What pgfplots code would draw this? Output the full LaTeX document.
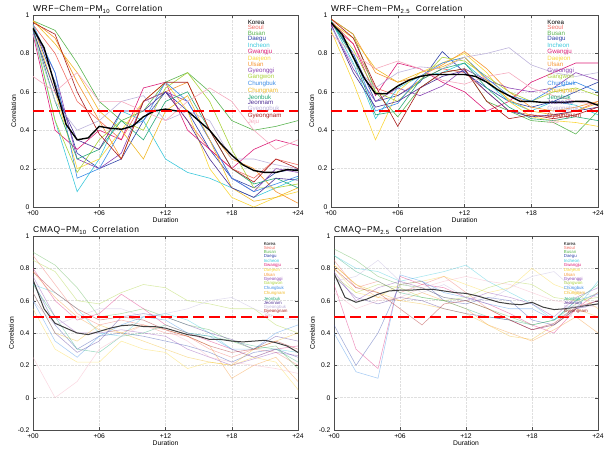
\documentclass[border=0pt]{standalone}
\usepackage{fontspec}
\setmainfont{Liberation Sans}
\newfontfamily\titlefont[LetterSpace=6]{Liberation Sans}
\usepackage{pgfplots}
\usepackage{pgfplotstable}
\pgfplotsset{compat=1.18}

\definecolor{cSeoul}{RGB}{240,110,100}
\definecolor{cBusan}{RGB}{90,180,80}
\definecolor{cDaegu}{RGB}{50,70,170}
\definecolor{cIncheon}{RGB}{60,200,220}
\definecolor{cGwangju}{RGB}{220,30,120}
\definecolor{cDaejeon}{RGB}{250,215,60}
\definecolor{cUlsan}{RGB}{245,150,50}
\definecolor{cGyeonggi}{RGB}{140,70,180}
\definecolor{cGangwon}{RGB}{170,210,60}
\definecolor{cChungbuk}{RGB}{60,140,230}
\definecolor{cChungnam}{RGB}{240,185,40}
\definecolor{cJeonbuk}{RGB}{40,170,120}
\definecolor{cJeonnam}{RGB}{80,50,150}
\definecolor{cGyeongbuk}{RGB}{190,180,220}
\definecolor{cGyeongnam}{RGB}{170,30,30}
\definecolor{cJeju}{RGB}{245,170,190}

% regions, every 2 hours
\pgfplotstableread{
h Seoul Busan Daegu Incheon Gwangju Daejeon Ulsan Gyeonggi Gangwon Chungbuk Chungnam Jeonbuk Jeonnam Gyeongbuk Gyeongnam Jeju
0  0.95 0.97 0.94 0.92 0.90 0.95 0.97 0.93 0.93 0.95 0.97 0.93 0.92 0.90 0.96 0.68
2  0.80 0.92 0.65 0.45 0.40 0.60 0.88 0.70 0.45 0.70 0.85 0.55 0.60 0.55 0.90 0.60
4  0.55 0.75 0.28 0.08 0.30 0.20 0.65 0.25 0.18 0.15 0.70 0.25 0.35 0.40 0.60 0.70
6  0.45 0.55 0.20 0.25 0.40 0.25 0.45 0.20 0.35 0.20 0.50 0.30 0.30 0.45 0.38 0.55
8  0.35 0.45 0.25 0.50 0.35 0.40 0.25 0.28 0.45 0.40 0.40 0.45 0.50 0.55 0.25 0.55
10 0.55 0.50 0.45 0.45 0.62 0.55 0.55 0.55 0.40 0.45 0.25 0.35 0.50 0.58 0.55 0.50
12 0.60 0.65 0.60 0.25 0.65 0.65 0.60 0.60 0.62 0.65 0.50 0.55 0.60 0.45 0.65 0.45
14 0.45 0.70 0.50 0.18 0.40 0.50 0.65 0.55 0.70 0.55 0.58 0.60 0.45 0.50 0.65 0.55
16 0.30 0.60 0.30 0.15 0.30 0.20 0.40 0.35 0.55 0.35 0.35 0.40 0.25 0.45 0.40 0.62
18 0.20 0.45 0.15 0.10 0.20 0.05 0.25 0.15 0.30 0.15 0.10 0.20 0.10 0.25 0.20 0.55
20 0.15 0.40 0.10 0.05 0.30 0.00 0.20 0.08 0.10 0.08 0.03 0.12 0.05 0.25 0.13 0.40
22 0.25 0.42 0.18 0.10 0.35 0.05 0.08 0.20 0.10 0.12 0.05 0.15 0.15 0.22 0.25 0.30
24 0.22 0.45 0.20 0.15 0.32 0.08 0.02 0.18 0.12 0.16 0.10 0.10 0.14 0.20 0.20 0.35
}\tabA

\pgfplotstableread{
h Seoul Busan Daegu Incheon Gwangju Daejeon Ulsan Gyeonggi Gangwon Chungbuk Chungnam Jeonbuk Jeonnam Gyeongbuk Gyeongnam Jeju
0  0.97 0.98 0.96 0.97 0.95 0.92 0.98 0.95 0.96 0.97 0.96 0.97 0.95 0.94 0.98 0.90
2  0.85 0.90 0.80 0.75 0.85 0.65 0.90 0.72 0.82 0.80 0.88 0.78 0.70 0.74 0.88 0.80
4  0.62 0.60 0.55 0.46 0.58 0.35 0.70 0.55 0.60 0.50 0.72 0.48 0.52 0.62 0.63 0.72
6  0.58 0.47 0.58 0.62 0.75 0.60 0.65 0.62 0.55 0.54 0.65 0.50 0.55 0.70 0.42 0.76
8  0.66 0.62 0.65 0.68 0.72 0.70 0.68 0.58 0.66 0.68 0.70 0.66 0.62 0.73 0.62 0.72
10 0.72 0.70 0.81 0.70 0.65 0.75 0.74 0.63 0.78 0.75 0.73 0.72 0.68 0.72 0.70 0.66
12 0.70 0.72 0.70 0.75 0.60 0.80 0.81 0.72 0.76 0.78 0.78 0.75 0.71 0.78 0.72 0.64
14 0.60 0.55 0.62 0.65 0.50 0.70 0.72 0.66 0.68 0.67 0.66 0.62 0.60 0.80 0.55 0.68
16 0.50 0.50 0.55 0.55 0.55 0.55 0.60 0.62 0.60 0.58 0.56 0.52 0.50 0.83 0.46 0.70
18 0.48 0.45 0.52 0.50 0.65 0.47 0.52 0.60 0.55 0.55 0.50 0.46 0.47 0.74 0.48 0.62
20 0.47 0.44 0.55 0.55 0.70 0.45 0.50 0.62 0.60 0.62 0.48 0.45 0.48 0.70 0.46 0.58
22 0.50 0.38 0.60 0.53 0.75 0.44 0.52 0.70 0.62 0.65 0.50 0.47 0.50 0.68 0.48 0.55
24 0.55 0.50 0.65 0.48 0.75 0.42 0.55 0.66 0.58 0.60 0.54 0.45 0.52 0.70 0.52 0.53
}\tabB

\pgfplotstableread{
h Seoul Busan Daegu Incheon Gwangju Daejeon Ulsan Gyeonggi Gangwon Chungbuk Chungnam Jeonbuk Jeonnam Gyeongbuk Gyeongnam Jeju
0  0.88 0.90 0.72 0.70 0.80 0.55 0.78 0.75 0.85 0.60 0.65 0.70 0.65 0.60 0.78 0.25
2  0.70 0.82 0.45 0.65 0.60 0.30 0.62 0.50 0.78 0.35 0.40 0.50 0.40 0.45 0.65 0.00
4  0.52 0.68 0.30 0.55 0.48 0.22 0.50 0.40 0.60 0.25 0.35 0.30 0.28 0.50 0.55 0.10
6  0.45 0.50 0.38 0.40 0.52 0.22 0.42 0.40 0.58 0.38 0.45 0.28 0.35 0.55 0.48 0.30
8  0.48 0.52 0.40 0.38 0.64 0.35 0.40 0.42 0.65 0.45 0.40 0.38 0.50 0.55 0.50 0.38
10 0.45 0.55 0.38 0.50 0.55 0.30 0.45 0.40 0.70 0.50 0.35 0.40 0.52 0.50 0.48 0.45
12 0.40 0.50 0.35 0.52 0.45 0.28 0.42 0.38 0.68 0.48 0.30 0.45 0.50 0.52 0.42 0.42
14 0.38 0.45 0.32 0.48 0.40 0.18 0.38 0.30 0.60 0.40 0.25 0.40 0.45 0.55 0.38 0.35
16 0.30 0.42 0.28 0.40 0.35 0.22 0.32 0.25 0.58 0.38 0.22 0.38 0.40 0.60 0.32 0.25
18 0.25 0.35 0.22 0.30 0.30 0.20 0.12 0.20 0.55 0.30 0.20 0.35 0.36 0.62 0.28 0.22
20 0.30 0.30 0.28 0.25 0.25 0.25 0.20 0.24 0.55 0.30 0.30 0.32 0.30 0.55 0.30 0.20
22 0.28 0.32 0.30 0.30 0.30 0.22 0.25 0.28 0.45 0.40 0.35 0.30 0.38 0.50 0.35 0.18
24 0.20 0.18 0.25 0.28 0.32 0.05 0.10 0.26 0.40 0.45 0.40 0.22 0.35 0.48 0.30 0.15
}\tabC

\pgfplotstableread{
h Seoul Busan Daegu Incheon Gwangju Daejeon Ulsan Gyeonggi Gangwon Chungbuk Chungnam Jeonbuk Jeonnam Gyeongbuk Gyeongnam Jeju
0  0.85 0.92 0.45 0.88 0.70 0.80 0.82 0.78 0.75 0.40 0.82 0.88 0.75 0.72 0.80 0.65
2  0.68 0.85 0.20 0.80 0.30 0.65 0.70 0.60 0.65 0.16 0.70 0.78 0.62 0.75 0.68 0.55
4  0.72 0.75 0.40 0.78 0.18 0.62 0.62 0.68 0.70 0.12 0.65 0.72 0.58 0.85 0.65 0.60
6  0.65 0.70 0.70 0.72 0.75 0.70 0.60 0.72 0.68 0.76 0.60 0.65 0.62 0.72 0.55 0.62
8  0.70 0.68 0.72 0.75 0.70 0.72 0.65 0.68 0.62 0.72 0.58 0.62 0.60 0.65 0.45 0.68
10 0.75 0.62 0.60 0.78 0.68 0.75 0.60 0.62 0.60 0.65 0.55 0.60 0.55 0.70 0.58 0.72
12 0.65 0.60 0.58 0.82 0.62 0.70 0.55 0.60 0.62 0.62 0.52 0.55 0.52 0.62 0.60 0.75
14 0.55 0.55 0.62 0.72 0.58 0.65 0.45 0.65 0.68 0.58 0.45 0.50 0.50 0.60 0.55 0.72
16 0.48 0.50 0.60 0.65 0.52 0.68 0.40 0.62 0.72 0.55 0.38 0.48 0.48 0.68 0.48 0.70
18 0.42 0.45 0.48 0.58 0.45 0.80 0.35 0.58 0.70 0.55 0.36 0.45 0.42 0.75 0.42 0.65
20 0.45 0.48 0.45 0.48 0.40 0.70 0.42 0.50 0.62 0.48 0.45 0.48 0.45 0.78 0.46 0.60
22 0.55 0.58 0.55 0.55 0.55 0.65 0.50 0.62 0.60 0.60 0.55 0.60 0.55 0.66 0.56 0.58
24 0.60 0.65 0.60 0.72 0.65 0.55 0.40 0.68 0.62 0.64 0.50 0.70 0.58 0.62 0.60 0.56
}\tabD

% Korea, hourly: A B C D
\pgfplotstableread{
h A B C D
0  0.93 0.96 0.73 0.77
1  0.83 0.90 0.55 0.62
2  0.63 0.78 0.46 0.59
3  0.43 0.67 0.43 0.61
4  0.35 0.59 0.40 0.64
5  0.36 0.59 0.39 0.66
6  0.42 0.63 0.41 0.665
7  0.41 0.66 0.43 0.665
8  0.405 0.68 0.445 0.67
9  0.42 0.69 0.45 0.67
10 0.47 0.69 0.44 0.66
11 0.50 0.69 0.44 0.65
12 0.51 0.69 0.43 0.645
13 0.50 0.68 0.41 0.63
14 0.50 0.65 0.39 0.61
15 0.45 0.61 0.38 0.59
16 0.40 0.58 0.36 0.58
17 0.33 0.55 0.36 0.575
18 0.27 0.55 0.35 0.59
19 0.22 0.545 0.345 0.56
20 0.19 0.545 0.35 0.545
21 0.18 0.545 0.355 0.55
22 0.18 0.55 0.34 0.56
23 0.195 0.55 0.32 0.57
24 0.19 0.53 0.28 0.58
}\korea

\newcommand{\regionplots}[1]{%
\addplot[region, cSeoul] table[x=h,y=Seoul]{#1};
\addplot[region, cBusan] table[x=h,y=Busan]{#1};
\addplot[region, cDaegu] table[x=h,y=Daegu]{#1};
\addplot[region, cIncheon] table[x=h,y=Incheon]{#1};
\addplot[region, cGwangju] table[x=h,y=Gwangju]{#1};
\addplot[region, cDaejeon] table[x=h,y=Daejeon]{#1};
\addplot[region, cUlsan] table[x=h,y=Ulsan]{#1};
\addplot[region, cGyeonggi] table[x=h,y=Gyeonggi]{#1};
\addplot[region, cGangwon] table[x=h,y=Gangwon]{#1};
\addplot[region, cChungbuk] table[x=h,y=Chungbuk]{#1};
\addplot[region, cChungnam] table[x=h,y=Chungnam]{#1};
\addplot[region, cJeonbuk] table[x=h,y=Jeonbuk]{#1};
\addplot[region, cJeonnam] table[x=h,y=Jeonnam]{#1};
\addplot[region, cGyeongbuk] table[x=h,y=Gyeongbuk]{#1};
\addplot[region, cGyeongnam] table[x=h,y=Gyeongnam]{#1};
\addplot[region, cJeju] table[x=h,y=Jeju]{#1};
}

\newcommand{\legendtext}{%
\textcolor{black}{Korea}\\ \textcolor{cSeoul}{Seoul}\\ \textcolor{cBusan}{Busan}\\
\textcolor{cDaegu}{Daegu}\\ \textcolor{cIncheon}{Incheon}\\ \textcolor{cGwangju}{Gwangju}\\
\textcolor{cDaejeon}{Daejeon}\\ \textcolor{cUlsan}{Ulsan}\\ \textcolor{cGyeonggi}{Gyeonggi}\\
\textcolor{cGangwon}{Gangwon}\\ \textcolor{cChungbuk}{Chungbuk}\\ \textcolor{cChungnam}{Chungnam}\\
\textcolor{cJeonbuk}{Jeonbuk}\\ \textcolor{cJeonnam}{Jeonnam}\\ \textcolor{cGyeongbuk}{Gyeongbuk}\\
\textcolor{cGyeongnam}{Gyeongnam}\\ \textcolor{cJeju}{Jeju}}

\pgfplotsset{
  panel/.style={
    scale only axis, width=265bp, height=192bp,
    xmin=0, xmax=24, ymax=1,
    xtick={0,6,12,18,24}, xticklabels={+00,+06,+12,+18,+24},
    grid=major, grid style={densely dotted, gray!25},
    axis line style={gray!60!black, line width=1pt},
    tick style={gray!60!black}, tick align=inside, major tick length=3bp,
    ticklabel style={font=\fontsize{6.8}{7}\selectfont},
    /pgf/number format/assume math mode=true,
    xlabel=Duration, ylabel=Correlation,
    label style={font=\fontsize{6.8}{7}\selectfont},
    xlabel style={yshift=5bp}, ylabel style={yshift=-3bp},
    korea/.style={black, line width=1.4bp},
    redline/.style={red, line width=2.6bp, dash pattern=on 11bp off 5bp},
  },
  paneltitle/.style={extra description/.code={
    \node[anchor=south west, inner sep=0pt, yshift=1.5bp,
      font=\titlefont\fontsize{8.5}{9}\selectfont] at (0,1) {#1};}},
  toprow/.style={ymin=0, ytick={0,0.2,...,1},
    region/.style={line width=0.6bp}},
  botrow/.style={ymin=-0.2, ymax=1, ytick={-0.2,0,0.2,...,1},
    region/.style={line width=0.55bp, opacity=0.45},
    korea/.style={black!75, line width=1bp}},
}

\begin{document}
\begin{tikzpicture}
\path[use as bounding box] (0,0) rectangle (615bp,-454bp);

\begin{axis}[panel, toprow, at={(33bp,-15bp)}, anchor=north west,
  paneltitle={WRF−Chem−PM\textsubscript{10}\ \ Correlation}]
\regionplots{\tabA}
\addplot[korea] table[x=h,y=A]{\korea};
\addplot[redline] coordinates {(0,0.5) (24,0.5)};
\node[anchor=north west, align=left, inner sep=0, font=\fontsize{6.2}{5.6}\selectfont]
  at (rel axis cs:0.81,0.975) {\legendtext};
\end{axis}

\begin{axis}[panel, toprow, at={(331bp,-15bp)}, anchor=north west, width=267bp,
  paneltitle={WRF−Chem−PM\textsubscript{2.5}\ \ Correlation}]
\regionplots{\tabB}
\addplot[korea] table[x=h,y=B]{\korea};
\addplot[redline] coordinates {(0,0.5) (24,0.5)};
\node[anchor=north west, align=left, inner sep=0, font=\fontsize{6.2}{5.6}\selectfont]
  at (rel axis cs:0.81,0.975) {\legendtext};
\end{axis}

\begin{axis}[panel, botrow, at={(33bp,-236bp)}, anchor=north west, height=194bp,
  paneltitle={CMAQ−PM\textsubscript{10}\ \ Correlation}]
\regionplots{\tabC}
\addplot[korea] table[x=h,y=C]{\korea};
\addplot[redline] coordinates {(0,0.5) (24,0.5)};
\node[anchor=north west, align=left, inner sep=0, font=\fontsize{4.4}{4.1}\selectfont]
  at (rel axis cs:0.87,0.97) {\legendtext};
\end{axis}

\begin{axis}[panel, botrow, at={(334bp,-236bp)}, anchor=north west, height=194bp, width=264bp,
  paneltitle={CMAQ−PM\textsubscript{2.5}\ \ Correlation}]
\regionplots{\tabD}
\addplot[korea] table[x=h,y=D]{\korea};
\addplot[redline] coordinates {(0,0.5) (24,0.5)};
\node[anchor=north west, align=left, inner sep=0, font=\fontsize{4.4}{4.1}\selectfont]
  at (rel axis cs:0.87,0.97) {\legendtext};
\end{axis}
\end{tikzpicture}
\end{document}
